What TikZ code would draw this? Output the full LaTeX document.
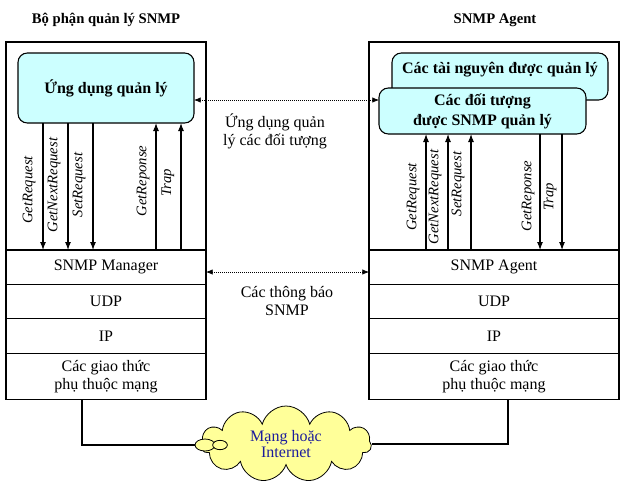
\documentclass[tikz,border=0pt]{standalone}
\usepackage{fontspec}
\setmainfont{Liberation Serif}
\usetikzlibrary{%
  calc,arrows.meta,shapes,%
  positioning}
\tikzset {>=Latex}
\definecolor{boxcyan}{HTML}{CCFFFF}
\definecolor{cloudyellow}{HTML}{FFFF99}
\definecolor{netblue}{HTML}{1C1C9C}
\tikzset{
  layer/.style={draw, rectangle, outer sep=0pt, align=center,
    minimum height=25.8pt, font=\fontsize{12}{13.5}\selectfont},
  mlayer/.style={layer, minimum width=150pt},
  alayer/.style={layer, minimum width=187.5pt},
  appbox/.style={draw, rounded corners=7pt, fill=boxcyan, align=center,
    outer sep=0pt, font=\bfseries\fontsize{12}{15}\selectfont},
  op/.style={rotate=90, inner sep=1pt, font=\itshape\fontsize{11}{13}\selectfont},
  sig/.style={->, >={Latex[length=6pt,width=4.5pt]}},
  msg/.style={<->, densely dotted, line width=0.5pt,
    >={Latex[length=5pt,width=4pt]}},
  note/.style={align=center, font=\fontsize{12}{13.5}\selectfont},
  head/.style={font=\bfseries\fontsize{11}{13}\selectfont},
  cloudy/.style={cloud, draw, fill=cloudyellow, text=netblue, align=center,
    cloud puffs=11, aspect=2.3, inner sep=0pt, line width=0.6pt,
    minimum width=128pt, minimum height=57pt,
    font=\fontsize{12}{13.5}\selectfont},
  tail/.style={ellipse, draw, fill=cloudyellow, inner sep=0pt, line width=0.6pt}
}
\begin{document}
\begin{tikzpicture}[x=0.75pt,y=-0.75pt,line width=0.8pt]
\useasboundingbox (0,0) rectangle (630,483);
% headings
\node[head] (mhead) at (106,20) {Bộ phận quản lý SNMP};
\node[head] (ahead) at (495,20) {SNMP Agent};

% manager side
\node[mlayer, anchor=north] (mgr) at (106,250) {SNMP Manager};
\node[mlayer, below=0pt of mgr] (mudp) {UDP};
\node[mlayer, below=0pt of mudp] (mip) {IP};
\node[mlayer, minimum height=34.5pt, below=0pt of mip] (mnet)
  {Các giao thức\\phụ thuộc mạng};
\draw (mgr.north west |- 0,42) rectangle (mgr.north east);
\node[appbox, minimum width=132pt, minimum height=52.5pt] (app) at (106,88)
  {Ứng dụng quản lý};
\foreach \x/\y/\t in {43/190/GetRequest, 68/185/GetNextRequest, 93/185/SetRequest}
{
  \draw[sig] (app.south -| \x,0) -- (mgr.north -| \x,0);
  \node[op] (m\t) at (\x-14,\y) {\t};
}
\foreach \x/\y/\t in {156/181/GetReponse, 181/183/Trap}
{
  \draw[sig] (mgr.north -| \x,0) -- (app.south -| \x,0);
  \node[op] (m\t) at (\x-13,\y) {\t};
}

% agent side
\node[alayer, anchor=north] (agt) at (494,250) {SNMP Agent};
\node[alayer, below=0pt of agt] (audp) {UDP};
\node[alayer, below=0pt of audp] (aip) {IP};
\node[alayer, minimum height=34.5pt, below=0pt of aip] (anet)
  {Các giao thức\\phụ thuộc mạng};
\draw (agt.north west |- 0,42) rectangle (agt.north east);
\node[appbox, anchor=north, minimum width=162pt, inner ysep=0pt,
  text height=15pt, text depth=20.25pt] (res) at (500,53)
  {Các tài nguyên được quản lý};
\node[appbox, minimum width=155.25pt, minimum height=34.5pt] (obj) at (482.5,111)
  {Các đối tượng\\được SNMP quản lý};
\foreach \x/\y/\t in {426/197/GetRequest, 448/197/GetNextRequest, 471/184/SetRequest}
{
  \draw[sig] (agt.north -| \x,0) -- (obj.south -| \x,0);
  \node[op] (a\t) at (\x-13,\y) {\t};
}
\foreach \x/\y/\t in {540/196/GetReponse, 562/197/Trap}
{
  \draw[sig] (obj.south -| \x,0) -- (agt.north -| \x,0);
  \node[op] (a\t) at (\x-12,\y) {\t};
}

% messages between the two sides
\draw[msg] (app.east |- 0,100) -- (obj.west |- 0,100);
\node[note] (appnote) at (275,131) {Ứng dụng quản\\lý các đối tượng};
\draw[msg] (mgr.east |- 0,272) -- (agt.west |- 0,272);
\node[note] (msgnote) at (287,301) {Các thông báo\\SNMP};

% network
\node[cloudy] (net) at (286,444) {Mạng hoặc\\[-1pt]Internet};
\node[tail, minimum width=15pt, minimum height=9pt] (tailA) at (205,445) {};
\node[tail, minimum width=11pt, minimum height=7pt] (tailB) at (220,445) {};
\draw (mnet.south -| 82,0) |- (tailA.west);
\draw (anet.south -| 508,0) |- (net.east);
\end{tikzpicture}
\end{document}
